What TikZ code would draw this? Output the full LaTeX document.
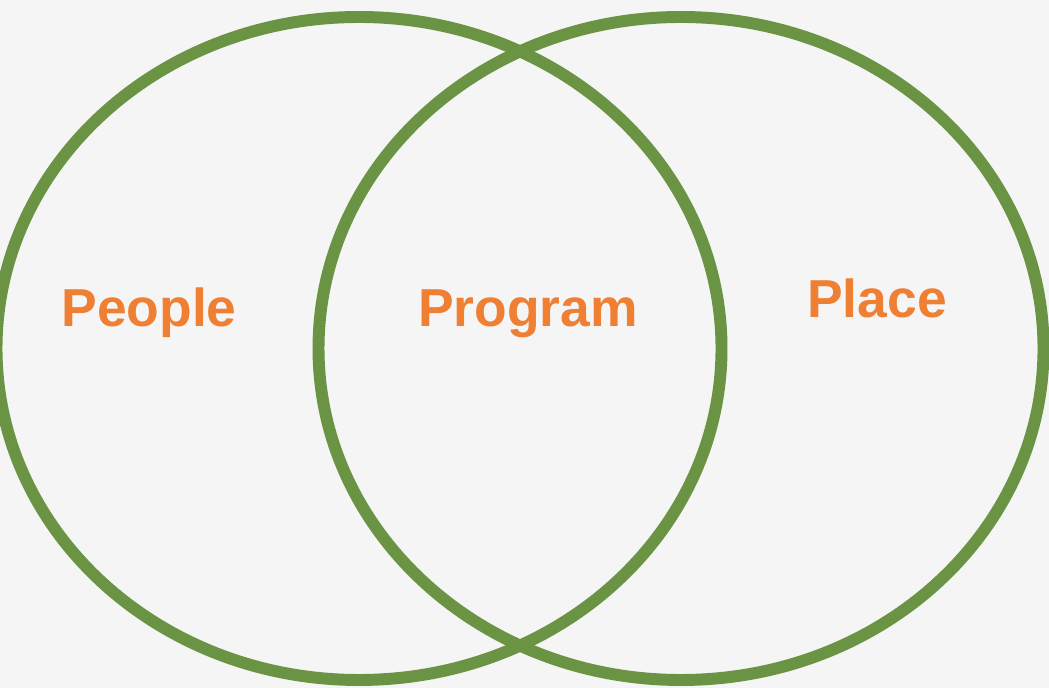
\documentclass[tikz,border=0pt]{standalone}
\usepackage{fontspec}
\setmainfont{Liberation Sans}
\usetikzlibrary{shapes}
\definecolor{setgreen}{HTML}{6A9444}
\definecolor{labelorange}{HTML}{EE7F33}
\definecolor{bggray}{HTML}{F5F5F5}
\begin{document}
\begin{tikzpicture}[set/.style={ellipse, draw=setgreen, line width=3.4pt, minimum width=7.25cm, minimum height=6.63cm, inner sep=0pt},word/.style={anchor=base, text=labelorange, font=\fontsize{15.2}{18}\selectfont\bfseries, inner sep=0pt}]
  \fill[bggray] (0,0) rectangle (10.49,6.88);
  \useasboundingbox (0,0) rectangle (10.49,6.88);

  \node[set] (people) at (3.59,3.395) {};
  \node[set] (place) at (6.81,3.395) {};

  \node[word] (peoplelabel) at (1.49,3.61) {People};
  \node[word] (programlabel) at (5.28,3.61) {Program};
  \node[word] (placelabel) at (8.77,3.70) {Place};
\end{tikzpicture}
\end{document}
